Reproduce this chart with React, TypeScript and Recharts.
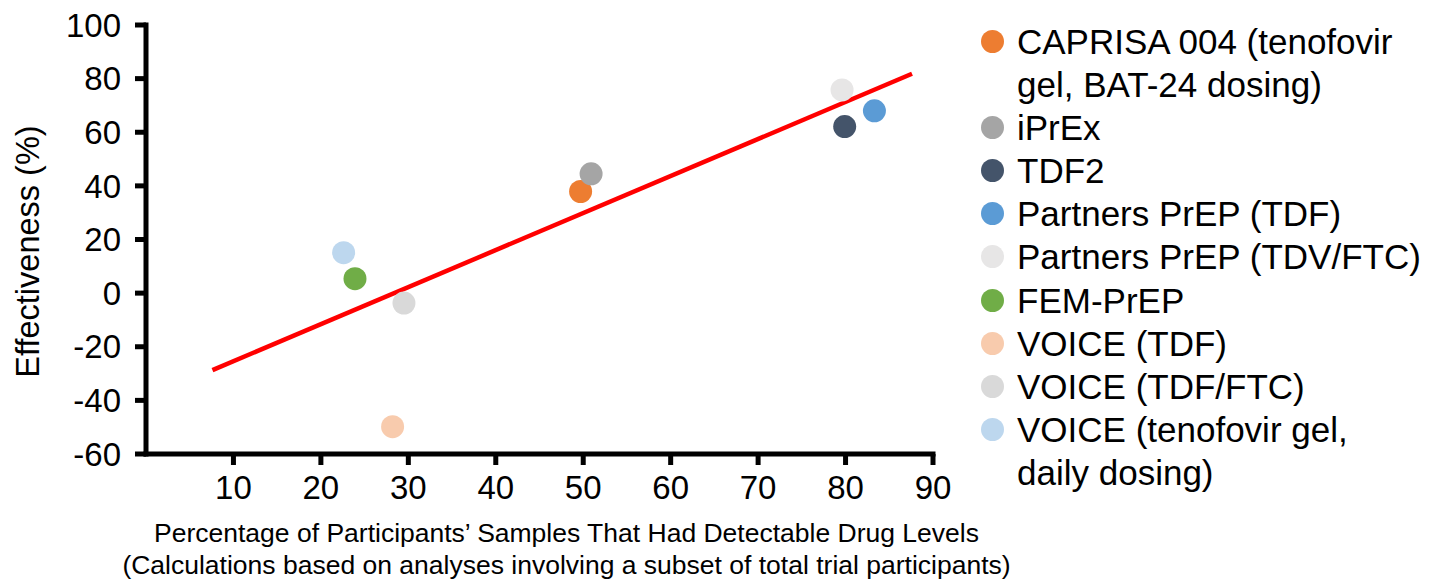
import React from 'react';
import { ScatterChart, Scatter, XAxis, YAxis, ReferenceLine } from 'recharts';

const seriesNames = [
  'CAPRISA 004 (tenofovir gel, BAT-24 dosing)',
  'iPrEx',
  'TDF2',
  'Partners PrEP (TDF)',
  'Partners PrEP (TDV/FTC)',
  'FEM-PrEP',
  'VOICE (TDF)',
  'VOICE (TDF/FTC)',
  'VOICE (tenofovir gel, daily dosing)',
];
const legendLabels = [
  'CAPRISA 004 (tenofovir\ngel, BAT-24 dosing)',
  'iPrEx',
  'TDF2',
  'Partners PrEP (TDF)',
  'Partners PrEP (TDV/FTC)',
  'FEM-PrEP',
  'VOICE (TDF)',
  'VOICE (TDF/FTC)',
  'VOICE (tenofovir gel,\ndaily dosing)',
];
const seriesColors = ['#ED7D31', '#A5A5A5', '#44546A', '#5B9BD5', '#E7E6E6', '#70AD47', '#F8CBAD', '#D9D9D9', '#BDD7EE'];
const detectableLevels = [49.7, 50.9, 79.9, 83.3, 79.6, 23.9, 28.2, 29.5, 22.6];
const effectiveness = [37.9, 44.5, 62.1, 68.0, 75.8, 5.4, -49.8, -3.7, 15.1];
const trendX = [7.6, 87.6];
const trendY = [-28.7, 81.8];
const xTicks = [10, 20, 30, 40, 50, 60, 70, 80, 90];
const yTicks = [-60, -40, -20, 0, 20, 40, 60, 80, 100];
const xTitleLines = [
  'Percentage of Participants\u2019 Samples That Had Detectable Drug Levels',
  '(Calculations based on analyses involving a subset of total trial participants)',
];
const yTitle = 'Effectiveness (%)';

const FONT = '"Liberation Sans", Arial, Helvetica, sans-serif';

const YLabel = (props: any) => {
  const vb = props.viewBox || {};
  const cy = vb.y + vb.height / 2 + 12;
  const cx = 28;
  return (
    <text x={cx} y={cy} transform={`rotate(-90 ${cx} ${cy})`} textAnchor="middle" dominantBaseline="central"
      fontSize={32.5} fontFamily={FONT} fill="#000">{yTitle}</text>
  );
};

const XLabel = (props: any) => {
  const vb = props.viewBox || {};
  const cx = vb.x + vb.width / 2 + 27;
  return (
    <g>
      {xTitleLines.map((t, i) => (
        <text key={i} x={cx} y={vb.y + 79 + i * 32} textAnchor="middle" dominantBaseline="central"
          fontSize={26.5} fontFamily={FONT} fill="#000">{t}</text>
      ))}
    </g>
  );
};

const makeDot = (color: string) => (p: any) => (
  <circle cx={p.cx} cy={p.cy} r={11.5} fill={color} />
);

export default function App() {
  return (
    <div style={{ position: 'absolute', left: 0, top: 0, width: 1441, height: 579, background: '#fff', fontFamily: FONT }}>
      <ScatterChart width={1441} height={579} margin={{ top: 25, right: 508, bottom: 0, left: 0 }}>
        <XAxis type="number" dataKey="x" domain={[0, 90]} ticks={xTicks} height={125}
          axisLine={{ stroke: '#000', strokeWidth: 5, strokeLinecap: 'square' }}
          tickLine={{ stroke: '#000', strokeWidth: 5 }} tickSize={11} tickMargin={11}
          fontSize={33} fontFamily={FONT}
          tick={{ fill: '#000', fontSize: 33, fontFamily: FONT }}
          label={<XLabel />} />
        <YAxis type="number" dataKey="y" domain={[-60, 100]} ticks={yTicks} width={146}
          axisLine={{ stroke: '#000', strokeWidth: 5, strokeLinecap: 'square' }}
          tickLine={{ stroke: '#000', strokeWidth: 5 }} tickSize={11} tickMargin={14}
          fontSize={33} fontFamily={FONT}
          tick={{ fill: '#000', fontSize: 33, fontFamily: FONT }}
          label={<YLabel />} />
        {seriesNames.map((name, i) => (
          <Scatter key={name} name={name} data={[{ x: detectableLevels[i], y: effectiveness[i] }]}
            fill={seriesColors[i]} shape={makeDot(seriesColors[i])} isAnimationActive={false} />
        ))}
        <ReferenceLine segment={[{ x: trendX[0], y: trendY[0] }, { x: trendX[1], y: trendY[1] }]}
          stroke="#FF0000" strokeWidth={4.5} />
      </ScatterChart>
      <div style={{ position: 'absolute', left: 981, top: 20, fontSize: 35, lineHeight: '43.1px', color: '#000', fontFamily: FONT }}>
        {legendLabels.map((label, i) => (
          <div key={i} style={{ display: 'flex', alignItems: 'flex-start' }}>
            <span style={{ width: 23, height: 23, borderRadius: '50%', background: seriesColors[i], marginTop: 10, marginRight: 13, flex: 'none' }} />
            <span style={{ whiteSpace: 'pre' }}>{label}</span>
          </div>
        ))}
      </div>
    </div>
  );
}
